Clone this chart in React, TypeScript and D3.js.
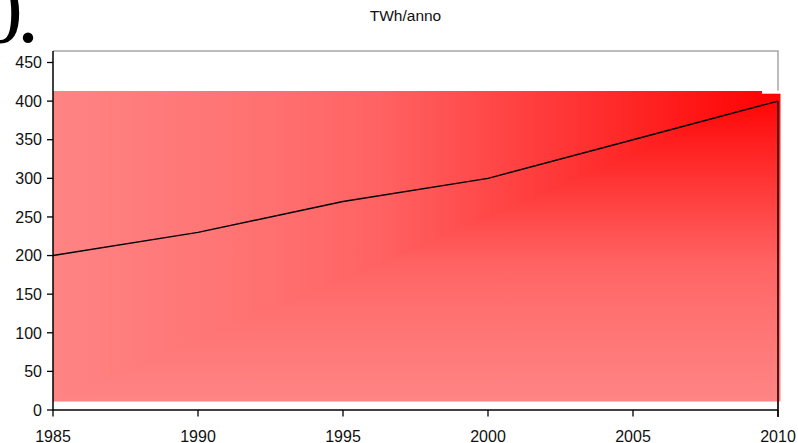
import * as d3 from "d3"
import React from "react"

// values
const years = [1985, 1990, 1995, 2000, 2005, 2010]
const twh = [200, 230, 270, 300, 350, 400]
const yTickValues = [0, 50, 100, 150, 200, 250, 300, 350, 400, 450]
const bandRange = [11, 413] // gradient backdrop, in TWh
const notchYear = 2009.45
const notchValue = 409.6
const title = "TWh/anno"
const cornerText = "0."

// red -> pink ramp, measured from the top-right corner outward
const rampStops: [number, number][] = [
  [0, 0], [0.2, 37], [0.4, 72], [0.55, 98], [0.7, 112], [0.85, 122], [1, 132]
]

export default function App() {
  const W = 798, H = 443
  const x = d3.scaleLinear().domain([1985, 2010]).range([53, 778])
  const y = d3.scaleLinear().domain([0, 450]).range([410, 62.5])
  const plotTop = y(465)

  const line = d3.line<number>().x((d, i) => x(years[i])).y(d => y(d))(twh)

  const L = x(1985), R = x(2010) + 2.5
  const T = y(bandRange[1]), B = y(bandRange[0])
  // top-left half of the box takes the horizontal ramp, the rest the vertical one
  const triTop = `M${L},${T}L${R},${T}L${L},${B}Z`

  const font = "'Liberation Sans', Arial, sans-serif"
  const stop = (id: string) => rampStops.map(([o, g]) => (
    <stop key={id + o} offset={o} stopColor={`rgb(255,${g},${g})`} />
  ))

  return (
    <svg width={W} height={H} style={{ position: "absolute", left: 0, top: 0, background: "#fff" }}>
      <defs>
        <linearGradient id="gh" gradientUnits="userSpaceOnUse" x1={R} y1={0} x2={L} y2={0}>{stop("h")}</linearGradient>
        <linearGradient id="gv" gradientUnits="userSpaceOnUse" x1={0} y1={T} x2={0} y2={B}>{stop("v")}</linearGradient>
      </defs>

      <text x={-21.4} y={42} fontFamily="'Liberation Serif', 'Times New Roman', serif" fontSize={88}
        letterSpacing={-5.5} fill="#000">{cornerText}</text>

      <text x={405.5} y={20.5} textAnchor="middle" fontFamily={font} fontSize={15.5} fill="#111">{title}</text>

      {/* plot area border */}
      <path d={`M${x(1985)},${plotTop}H${x(2010)}V${y(0)}`} fill="none" stroke="#a6a6a6" strokeWidth={1.5} />

      {/* gradient backdrop */}
      <rect x={L} y={T} width={R - L} height={B - T} fill="url(#gv)" />
      <path d={triTop} fill="url(#gh)" />
      <rect x={x(notchYear)} y={T - 0.5} width={R - x(notchYear) + 1} height={y(notchValue) - T + 0.5} fill="#fff" />

      {/* y axis */}
      <line x1={x(1985)} x2={x(1985)} y1={plotTop} y2={y(0)} stroke="#000" strokeWidth={1.5} />
      {yTickValues.map(v => (
        <g key={v}>
          <line x1={x(1985) - 6} x2={x(1985)} y1={y(v)} y2={y(v)} stroke="#000" strokeWidth={1.3} />
          <text x={42} y={y(v)} dy="0.36em" textAnchor="end" fontFamily={font} fontSize={16} fill="#111">{v}</text>
        </g>
      ))}

      {/* x axis */}
      <line x1={x(1985)} x2={x(2010)} y1={y(0)} y2={y(0)} stroke="#000" strokeWidth={1.5} />
      {years.map(yr => (
        <g key={yr}>
          <line x1={x(yr)} x2={x(yr)} y1={y(0)} y2={y(0) + 6.5} stroke="#000" strokeWidth={1.3} />
          <text x={x(yr)} y={441.5} textAnchor="middle" fontFamily={font} fontSize={16} fill="#111">{yr}</text>
        </g>
      ))}

      {/* series */}
      <path d={line || ""} fill="none" stroke="#000" strokeWidth={1.4} />
      <line x1={x(2010)} x2={x(2010)} y1={y(twh[twh.length - 1])} y2={y(0) + 7} stroke="#1a0000" strokeWidth={1.6} />
    </svg>
  )
}
